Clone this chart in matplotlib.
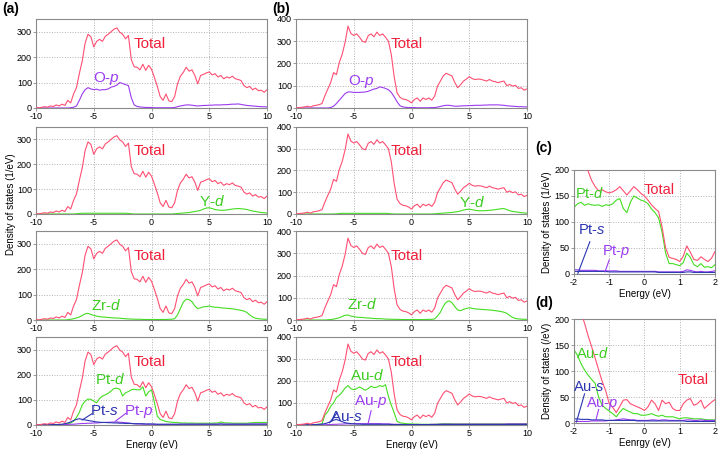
"""Density of states panels (a)-(d), redrawn with matplotlib."""

import numpy as np
import matplotlib
matplotlib.use("Agg")
import matplotlib.pyplot as plt

plt.rcParams["font.family"] = ["Liberation Sans", "DejaVu Sans"]
plt.rcParams["mathtext.fontset"] = "custom"
plt.rcParams["mathtext.it"] = "Liberation Sans:italic"
plt.rcParams["mathtext.rm"] = "Liberation Sans"
plt.rcParams["axes.unicode_minus"] = False

# energy grids (eV): 0.25 eV steps for (a)/(b), 0.1 eV steps for (c)/(d)
energy_wide = np.linspace(-10, 10, 81)
energy_zoom = np.linspace(-2, 2, 41)

# ---- panel (a) ----
a_total = [2, 0, 3, 5, 3, 8, 6, 12, 8, 15,
           10, 30, 20, 55, 80, 135, 185, 255, 290, 280,
           240, 262, 270, 262, 282, 290, 300, 310, 315, 298,
           290, 272, 285, 190, 162, 160, 150, 172, 148, 168,
           152, 120, 85, 45, 30, 55, 28, 25, 45, 95,
           125, 140, 160, 145, 150, 128, 95, 128, 132, 138,
           142, 130, 135, 122, 128, 115, 122, 118, 125, 115,
           112, 108, 88, 80, 85, 72, 78, 68, 70, 62,
           72]
a_o_p = [0, 0, 0, 0, 0, 0, 0, 0, 0, 0,
         0, 0, 1, 3, 8, 30, 55, 72, 80, 75,
         72, 74, 70, 72, 72, 75, 82, 85, 90, 100,
         96, 92, 88, 40, 12, 6, 4, 3, 2, 2,
         2, 1, 1, 1, 1, 1, 1, 1, 2, 5,
         8, 10, 12, 12, 11, 9, 8, 9, 10, 10,
         11, 11, 12, 12, 12, 13, 13, 14, 15, 15,
         16, 14, 12, 10, 9, 8, 7, 6, 5, 5,
         4]
a_y_d = [0, 0, 0, 0, 0, 0, 0, 0, 0, 0,
         0, 0, 0, 0, 1, 2, 3, 3, 3, 3,
         3, 3, 3, 3, 3, 3, 3, 3, 3, 3,
         3, 3, 2, 1, 0, 0, 0, 0, 0, 0,
         0, 0, 0, 0, 0, 0, 0, 0, 1, 2,
         3, 4, 5, 6, 8, 10, 12, 15, 20, 24,
         25, 22, 18, 16, 15, 15, 16, 18, 20, 21,
         22, 21, 20, 18, 15, 12, 10, 8, 6, 5,
         4]
a_zr_d = [0, 0, 0, 0, 0, 0, 0, 0, 0, 0,
          0, 1, 3, 5, 8, 12, 18, 24, 26, 22,
          18, 15, 13, 12, 11, 10, 9, 8, 8, 7,
          6, 5, 4, 4, 3, 3, 3, 2, 2, 2,
          2, 2, 2, 2, 2, 2, 3, 3, 5, 20,
          45, 70, 82, 80, 72, 55, 45, 48, 52, 53,
          55, 52, 50, 50, 48, 47, 46, 45, 44, 42,
          40, 38, 35, 30, 20, 12, 7, 5, 4, 3,
          3]
a_pt_d = [0, 0, 0, 0, 0, 0, 1, 1, 2, 2,
          3, 5, 8, 15, 30, 50, 80, 95, 103, 102,
          95, 88, 105, 115, 120, 126, 135, 145, 146, 142,
          115, 128, 133, 140, 142, 140, 140, 152, 115, 132,
          140, 90, 35, 22, 18, 14, 12, 11, 10, 10,
          8, 8, 8, 7, 8, 7, 7, 7, 7, 7,
          7, 7, 8, 8, 12, 9, 8, 8, 7, 7,
          7, 7, 7, 7, 8, 9, 10, 10, 10, 10,
          10]
a_pt_s = [0, 0, 0, 1, 1, 1, 2, 2, 2, 3,
          5, 8, 12, 18, 22, 25, 22, 20, 18, 16,
          14, 12, 11, 10, 10, 9, 9, 8, 8, 7,
          7, 6, 6, 6, 5, 5, 5, 5, 4, 4,
          4, 4, 3, 3, 3, 3, 3, 3, 3, 3,
          3, 3, 3, 3, 3, 3, 3, 3, 3, 3,
          3, 3, 3, 3, 4, 3, 3, 3, 3, 3,
          3, 3, 3, 3, 3, 3, 3, 3, 3, 3,
          3]
a_pt_p = [0, 0, 0, 0, 0, 0, 0, 1, 1, 1,
          2, 2, 3, 3, 4, 5, 6, 6, 7, 7,
          8, 8, 9, 10, 10, 11, 11, 12, 12, 11,
          10, 9, 8, 6, 5, 4, 4, 3, 3, 3,
          3, 2, 2, 2, 2, 2, 2, 2, 2, 2,
          3, 3, 3, 3, 3, 3, 3, 3, 3, 3,
          3, 3, 3, 3, 4, 3, 3, 3, 3, 3,
          3, 3, 3, 3, 4, 4, 4, 4, 4, 4,
          4]

# ---- panel (b) ----
b_total = [0, 2, 3, 5, 8, 4, 10, 12, 15, 20,
           55, 85, 114, 159, 150, 205, 242, 295, 368, 335,
           326, 333, 318, 300, 295, 325, 333, 320, 341, 326,
           333, 318, 300, 240, 140, 68, 48, 40, 38, 32,
           23, 38, 45, 30, 45, 38, 45, 35, 53, 98,
           121, 144, 156, 150, 144, 114, 91, 105, 121, 130,
           141, 132, 128, 130, 129, 125, 121, 128, 121, 118,
           114, 118, 121, 100, 106, 98, 102, 88, 91, 80,
           86]
b_o_p = [0, 0, 0, 0, 0, 0, 0, 0, 0, 0,
         0, 0, 2, 8, 20, 35, 50, 65, 72, 72,
         70, 70, 70, 71, 72, 75, 80, 85, 88, 95,
         92, 88, 82, 70, 50, 28, 10, 5, 3, 2,
         2, 2, 1, 1, 1, 1, 1, 2, 2, 4,
         7, 10, 12, 12, 10, 8, 8, 9, 10, 10,
         11, 11, 12, 12, 12, 13, 13, 14, 14, 14,
         14, 13, 12, 10, 9, 8, 7, 6, 6, 5,
         5]
b_y_d = [0, 0, 0, 0, 0, 0, 0, 0, 0, 0,
         0, 0, 0, 0, 1, 2, 3, 3, 3, 3,
         3, 3, 3, 3, 3, 3, 3, 3, 3, 3,
         3, 3, 2, 1, 0, 0, 0, 0, 0, 0,
         0, 0, 0, 0, 0, 0, 0, 0, 1, 2,
         3, 4, 5, 6, 7, 9, 11, 14, 18, 21,
         22, 20, 17, 15, 15, 15, 16, 17, 18, 20,
         22, 24, 25, 20, 15, 12, 10, 8, 6, 5,
         4]
b_zr_d = [0, 0, 0, 0, 0, 0, 0, 0, 0, 0,
          0, 1, 2, 4, 7, 10, 16, 21, 22, 18,
          15, 13, 12, 11, 10, 9, 8, 7, 6, 6,
          5, 4, 4, 3, 3, 3, 2, 2, 2, 2,
          2, 2, 2, 2, 2, 2, 3, 3, 5, 18,
          35, 62, 80, 86, 78, 60, 45, 42, 48, 52,
          55, 52, 50, 49, 48, 47, 46, 45, 44, 42,
          40, 38, 35, 30, 20, 12, 7, 5, 4, 3,
          3]
b_au_d = [0, 0, 0, 0, 0, 1, 1, 2, 3, 5,
          45, 60, 85, 100, 125, 135, 150, 168, 179, 165,
          160, 165, 173, 165, 158, 165, 176, 170, 172, 179,
          175, 183, 130, 90, 55, 17, 10, 8, 6, 5,
          5, 4, 4, 3, 3, 3, 3, 3, 3, 4,
          5, 6, 6, 6, 5, 5, 5, 5, 5, 5,
          5, 5, 5, 5, 5, 5, 5, 5, 5, 5,
          5, 5, 5, 5, 6, 6, 6, 6, 6, 6,
          6]
b_au_s = [0, 0, 0, 0, 1, 1, 2, 2, 3, 4,
          6, 10, 15, 22, 25, 20, 15, 10, 8, 6,
          5, 4, 4, 3, 3, 3, 3, 3, 3, 3,
          3, 3, 3, 2, 2, 2, 2, 2, 2, 2,
          2, 2, 2, 2, 2, 2, 2, 2, 2, 2,
          2, 2, 2, 2, 2, 2, 2, 2, 2, 2,
          2, 2, 2, 2, 2, 2, 2, 2, 2, 2,
          2, 2, 2, 2, 2, 2, 2, 2, 2, 2,
          2]
b_au_p = [0, 0, 0, 0, 0, 0, 0, 1, 1, 1,
          1, 2, 2, 3, 3, 4, 4, 5, 5, 5,
          6, 6, 6, 6, 6, 6, 6, 6, 6, 6,
          5, 5, 5, 4, 3, 3, 3, 2, 2, 2,
          2, 2, 2, 2, 2, 2, 2, 3, 3, 3,
          4, 4, 4, 4, 4, 4, 4, 4, 4, 4,
          4, 4, 4, 4, 4, 4, 4, 4, 4, 4,
          4, 4, 4, 5, 5, 5, 5, 5, 5, 5,
          5]

# ---- panel (c): Pt, -2..2 eV ----
c_total = [280, 255, 230, 212, 198, 180, 168, 160, 162, 158,
           156, 158, 162, 168, 160, 152, 160, 168, 162, 155,
           150, 142, 133, 126, 120, 90, 50, 32, 30, 28,
           24, 34, 54, 42, 28, 26, 33, 28, 24, 30,
           43]
c_pt_d = [128, 135, 138, 132, 135, 133, 132, 133, 130, 133,
          132, 135, 142, 145, 126, 118, 138, 150, 146, 142,
          140, 135, 125, 118, 108, 80, 40, 20, 20, 18,
          16, 22, 40, 32, 18, 14, 20, 13, 14, 12,
          18]
c_pt_s = [5, 5, 5, 5, 5, 5, 5, 5, 5, 5,
          4, 4, 4, 4, 4, 4, 4, 4, 4, 4,
          4, 4, 4, 4, 3, 3, 3, 3, 3, 3,
          3, 3, 4, 4, 3, 3, 3, 3, 3, 3,
          3]
c_pt_p = [8, 8, 7, 7, 7, 7, 7, 6, 6, 6,
          6, 6, 6, 5, 5, 5, 5, 5, 5, 5,
          5, 5, 5, 5, 4, 4, 4, 4, 4, 4,
          4, 5, 8, 7, 5, 4, 5, 4, 4, 5,
          6]

# ---- panel (d): Au, -2..2 eV ----
d_total = [260, 235, 212, 192, 168, 147, 125, 102, 80, 62,
           37, 30, 20, 32, 44, 45, 37, 34, 31, 28,
           24, 31, 44, 37, 24, 44, 37, 40, 28, 24,
           24, 37, 44, 47, 34, 37, 44, 28, 34, 40,
           45]
d_au_d = [141, 130, 114, 102, 92, 84, 76, 50, 34, 28,
          23, 18, 12, 21, 28, 24, 21, 18, 18, 15,
          15, 16, 18, 15, 13, 15, 12, 12, 12, 10,
          8, 10, 10, 9, 8, 8, 8, 7, 6, 6,
          6]
d_au_s = [8, 8, 7, 7, 7, 6, 6, 6, 6, 5,
          5, 5, 5, 5, 5, 5, 5, 5, 4, 4,
          4, 4, 4, 4, 4, 4, 4, 4, 4, 4,
          4, 4, 3, 3, 3, 3, 3, 3, 3, 3,
          3]
d_au_p = [3, 3, 3, 3, 3, 4, 4, 4, 4, 4,
          5, 5, 6, 7, 8, 7, 6, 6, 5, 5,
          5, 5, 6, 6, 5, 6, 6, 5, 5, 5,
          5, 5, 6, 6, 5, 5, 6, 5, 5, 5,
          5]

RED = "#ff4f72"
RED_TXT = "#f0203c"
GREEN = "#44dd22"
GREEN_TXT = "#3ccc22"
PURPLE = "#9b3cf0"
BLUE = "#2a35b0"
LW = 0.8


def style_axes(ax, xlim, ylim, xticks, yticks):
    ax.set_xlim(*xlim)
    ax.set_ylim(*ylim)
    ax.set_xticks(xticks)
    ax.set_yticks(yticks)
    ax.grid(True, linestyle=":", color="#b0b0b0", linewidth=0.7)
    for s in ax.spines.values():
        s.set_color("#8a8a8a")
        s.set_linewidth(0.8)
    ax.tick_params(direction="out", length=2, width=0.6, color="#8a8a8a",
                   labelsize=6.5, pad=1)


def label(ax, x, y, s, color, size=11):
    ax.text(x, y, s, color=color, fontsize=size, ha="center", va="center")


def pointer(ax, x0, y0, x1, y1, color):
    ax.plot([x0, x1], [y0, y1], color=color, lw=0.8)


fig = plt.figure(figsize=(7.19, 4.49), dpi=100)

row_boxes = [(0.7595, 0.1982), (0.5234, 0.1938), (0.2873, 0.1982), (0.0535, 0.196)]
col_a = (0.0501, 0.3213)
col_b = (0.4117, 0.3213)

a_partials = [
    [(a_o_p, PURPLE)],
    [(a_y_d, GREEN)],
    [(a_zr_d, GREEN)],
    [(a_pt_d, GREEN), (a_pt_p, PURPLE), (a_pt_s, BLUE)],
]
b_partials = [
    [(b_o_p, PURPLE)],
    [(b_y_d, GREEN)],
    [(b_zr_d, GREEN)],
    [(b_au_d, GREEN), (b_au_p, PURPLE), (b_au_s, BLUE)],
]

axes_a, axes_b = [], []
for i, (bot, h) in enumerate(row_boxes):
    ax = fig.add_axes([col_a[0], bot, col_a[1], h])
    ax.plot(energy_wide, a_total, color=RED, lw=LW, zorder=3)
    for vals, c in a_partials[i]:
        ax.plot(energy_wide, vals, color=c, lw=LW, zorder=2)
    style_axes(ax, (-10, 10), (0, 350), [-10, -5, 0, 5, 10], [0, 100, 200, 300])
    axes_a.append(ax)

    ax = fig.add_axes([col_b[0], bot, col_b[1], h])
    ax.plot(energy_wide, b_total, color=RED, lw=LW, zorder=3)
    for vals, c in b_partials[i]:
        ax.plot(energy_wide, vals, color=c, lw=LW, zorder=2)
    style_axes(ax, (-10, 10), (0, 400), [-10, -5, 0, 5, 10], [0, 100, 200, 300, 400])
    axes_b.append(ax)

for ax in axes_a:
    label(ax, -0.15, 252, "Total", RED_TXT)
for ax in axes_b:
    label(ax, -0.4, 288, "Total", RED_TXT)

label(axes_a[0], -3.9, 116, "O-$p$", PURPLE)
label(axes_a[1], 5.25, 49, "Y-$d$", GREEN_TXT)
label(axes_a[2], -3.9, 59, "Zr-$d$", GREEN_TXT)
label(axes_a[3], -3.6, 179, "Pt-$d$", GREEN_TXT)
label(axes_a[3], -4.1, 54, "Pt-$s$", BLUE)
label(axes_a[3], -1.1, 54, "Pt-$p$", PURPLE)
pointer(axes_a[3], -6.0, 20, -5.15, 45, BLUE)
pointer(axes_a[3], -3.1, 16, -2.2, 47, PURPLE)
axes_a[3].set_xlabel("Energy (eV)", fontsize=7, labelpad=1)

label(axes_b[0], -4.3, 121, "O-$p$", PURPLE)
label(axes_b[1], 5.26, 51, "Y-$d$", GREEN_TXT)
label(axes_b[2], -4.3, 68, "Zr-$d$", GREEN_TXT)
label(axes_b[3], -3.85, 224, "Au-$d$", GREEN_TXT)
label(axes_b[3], -5.6, 36, "Au-$s$", BLUE)
label(axes_b[3], -3.55, 108, "Au-$p$", PURPLE)
pointer(axes_b[3], -7.1, 10, -6.45, 55, BLUE)
pointer(axes_b[3], -3.76, 6, -3.5, 65, PURPLE)
axes_b[3].set_xlabel("Energy (eV)", fontsize=7, labelpad=1)

fig.text(0.015, 0.545, "Density of states (1/eV)", rotation=90, fontsize=7,
         ha="center", va="center")
fig.text(0.003, 0.995, "(a)", fontsize=10, fontweight="bold", va="top")
fig.text(0.378, 0.995, "(b)", fontsize=10, fontweight="bold", va="top")

# panel (c)
ax_c = fig.add_axes([0.7983, 0.3898, 0.1961, 0.2316])
ax_c.plot(energy_zoom, c_total, color=RED, lw=LW, zorder=3)
ax_c.plot(energy_zoom, c_pt_d, color=GREEN, lw=LW, zorder=2)
ax_c.plot(energy_zoom, c_pt_p, color=PURPLE, lw=LW, zorder=2)
ax_c.plot(energy_zoom, c_pt_s, color=BLUE, lw=LW, zorder=2)
style_axes(ax_c, (-2, 2), (0, 200), [-2, -1, 0, 1, 2], [0, 50, 100, 150, 200])
label(ax_c, 0.43, 162, "Total", RED_TXT, 10.5)
label(ax_c, -1.57, 155, "Pt-$d$", GREEN_TXT, 10.5)
label(ax_c, -1.5, 85, "Pt-$s$", BLUE, 10.5)
label(ax_c, -0.79, 43, "Pt-$p$", PURPLE, 10.5)
pointer(ax_c, -1.89, 1, -1.55, 62, BLUE)
pointer(ax_c, -1.12, 4, -1.0, 27, PURPLE)
ax_c.set_xlabel("Energy (eV)", fontsize=7, labelpad=1)
ax_c.set_ylabel("Density of states (1/eV)", fontsize=7, labelpad=2)
fig.text(0.745, 0.67, "(c)", fontsize=10, fontweight="bold", va="center")

# panel (d)
ax_d = fig.add_axes([0.7983, 0.0579, 0.1961, 0.2316])
ax_d.plot(energy_zoom, d_total, color=RED, lw=LW, zorder=3)
ax_d.plot(energy_zoom, d_au_d, color=GREEN, lw=LW, zorder=2)
ax_d.plot(energy_zoom, d_au_p, color=PURPLE, lw=LW, zorder=2)
ax_d.plot(energy_zoom, d_au_s, color=BLUE, lw=LW, zorder=2)
style_axes(ax_d, (-2, 2), (0, 200), [-2, -1, 0, 1, 2], [0, 50, 100, 150, 200])
label(ax_d, 1.38, 82, "Total", RED_TXT, 10.5)
label(ax_d, -1.46, 134, "Au-$d$", GREEN_TXT, 10.5)
label(ax_d, -1.58, 70, "Au-$s$", BLUE, 10.5)
label(ax_d, -1.2, 38, "Au-$p$", PURPLE, 10.5)
pointer(ax_d, -1.93, 2, -1.7, 56, BLUE)
pointer(ax_d, -1.38, 5, -1.3, 26, PURPLE)
ax_d.set_xlabel("Eenrgy (eV)", fontsize=7, labelpad=1)
ax_d.set_ylabel("Density of states (/eV)", fontsize=7, labelpad=2)
fig.text(0.745, 0.325, "(d)", fontsize=10, fontweight="bold", va="center")

fig.savefig("out.png", dpi=100)
